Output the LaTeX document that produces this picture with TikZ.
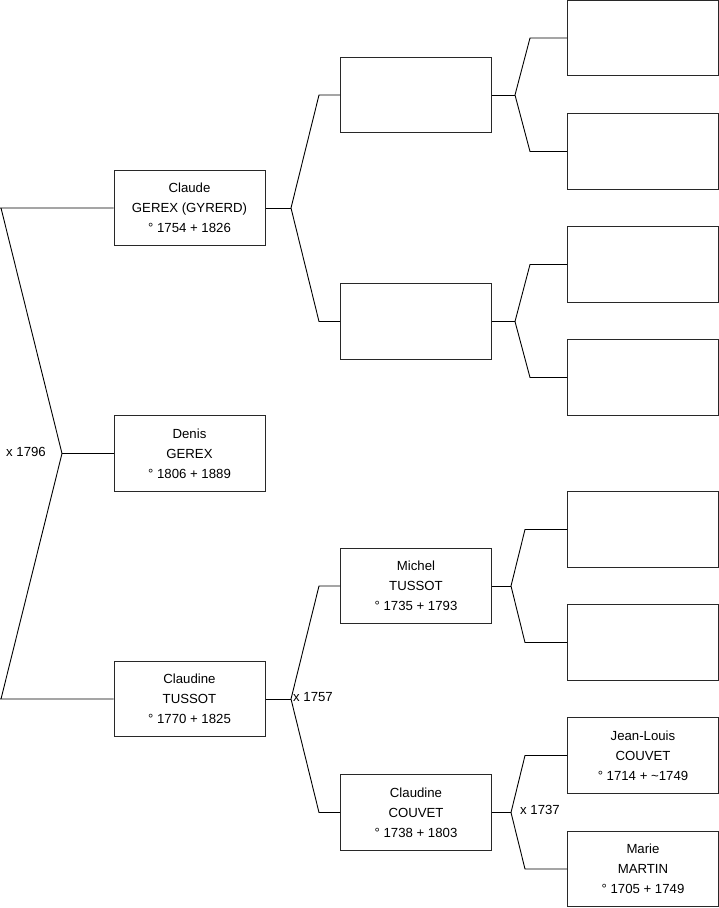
\documentclass[tikz,border=0pt]{standalone}
\usepackage{fontspec}
\setmainfont{Liberation Sans}
\usepackage{tikz}
\usetikzlibrary{calc}
\definecolor{boxline}{RGB}{40,40,40}

\begin{document}
\begin{tikzpicture}[
    x=1pt, y=-1pt,
    every node/.style={font=\fontsize{13.2}{20}\selectfont, align=center},
    person/.style={draw=boxline, line width=1pt, rectangle, minimum width=151pt, minimum height=75.5pt, inner sep=0pt},
    link/.style={draw=black, line width=0.9pt},
    union/.style={font=\fontsize{13.2}{15}\selectfont, inner sep=1pt}
]
    \useasboundingbox (0,0) rectangle (719,908);

    % Generation 1
    \node[person] (claude) at (189.5,208) {Claude\\GEREX (GYRERD)\\° 1754 + 1826};
    \node[person] (denis) at (189.5,453.5) {Denis\\GEREX\\° 1806 + 1889};
    \node[person] (claudine) at (189.5,699) {Claudine\\TUSSOT\\° 1770 + 1825};

    % Generation 2
    \node[person] (pA) at (416,95) {};
    \node[person] (pB) at (416,321.5) {};
    \node[person] (michel) at (416,586) {Michel\\TUSSOT\\° 1735 + 1793};
    \node[person] (couvet) at (416,812.5) {Claudine\\COUVET\\° 1738 + 1803};

    % Generation 3
    \node[person] (gA) at (643,38) {};
    \node[person] (gB) at (643,151.5) {};
    \node[person] (gC) at (643,264.5) {};
    \node[person] (gD) at (643,377.5) {};
    \node[person] (gE) at (643,529.5) {};
    \node[person] (gF) at (643,642.5) {};
    \node[person] (jeanlouis) at (643,755.5) {Jean-Louis\\COUVET\\° 1714 + \textasciitilde1749};
    \node[person] (marie) at (643,869) {Marie\\MARTIN\\° 1705 + 1749};

    % Junction points
    \coordinate (j0) at (62,453.5);
    \coordinate (j0a) at (1,208);
    \coordinate (j0b) at (1,699);
    \coordinate (jc) at (291,208);
    \coordinate (jd) at (291,699);
    \coordinate (ja) at (515,95);
    \coordinate (jb) at (515,321.5);
    \coordinate (jm) at (511,586);
    \coordinate (jv) at (511,812.5);

    % Links: child to parents
    \draw[link] (claude.west) -- (0,208) -- (j0a) -- (j0) -- (j0b) -- (0,699) -- (claudine.west);
    \draw[link] (j0) -- (denis.west);
    \node[union, anchor=east] (u0) at (47,452) {x 1796};

    \foreach \c/\j/\f/\m/\dx in {claude/jc/pA/pB/28, claudine/jd/michel/couvet/28,
                                 pA/ja/gA/gB/15, pB/jb/gC/gD/15,
                                 michel/jm/gE/gF/14, couvet/jv/jeanlouis/marie/14} {
        \draw[link] (\c.east) -- (\j);
        \draw[link] (\f.west) -- ($(\f.west -| \j)+(\dx,0)$) -- (\j)
                    -- ($(\m.west -| \j)+(\dx,0)$) -- (\m.west);
    }

    \node[union, anchor=west] (u1) at (292,697) {x 1757};
    \node[union, anchor=west] (u2) at (519,810) {x 1737};
\end{tikzpicture}
\end{document}
